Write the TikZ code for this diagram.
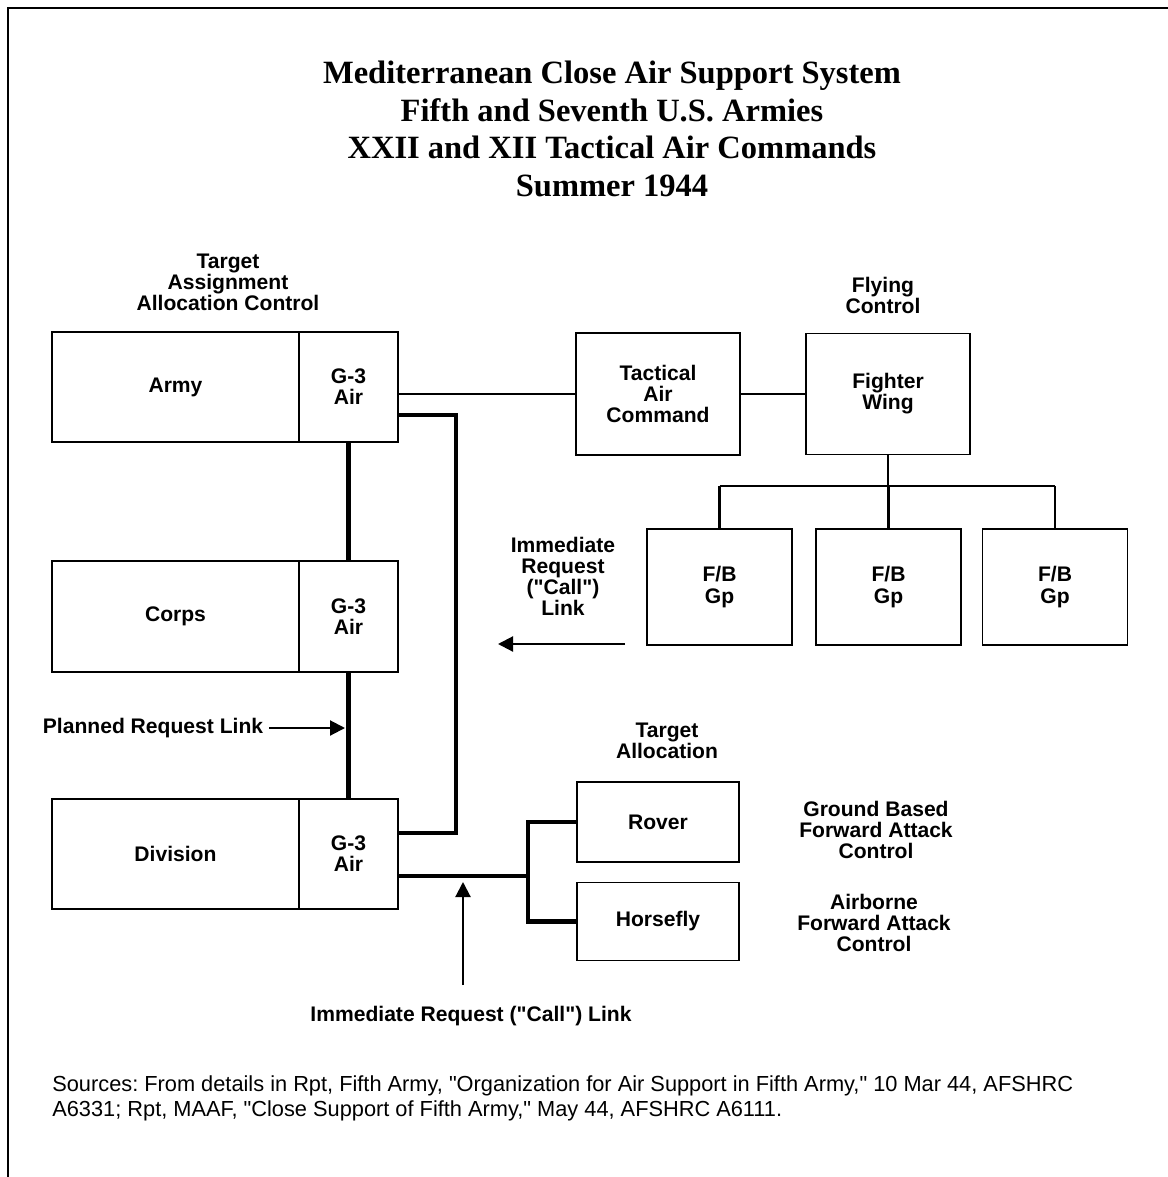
\documentclass[tikz,border=0pt]{standalone}
\usepackage{fontspec}
\setmainfont{Liberation Sans}[Ligatures=TeXOff]
\newfontfamily\titlefont{Liberation Serif}
\usepackage{tikz}
\usetikzlibrary{positioning,arrows.meta}
\frenchspacing

\begin{document}
\begin{tikzpicture}[x=0.02cm, y=-0.02cm,
    box/.style={draw, line width=1pt, outer sep=0pt, inner sep=2pt, align=center, font=\bfseries\fontsize{12}{12}\selectfont},
    tag/.style={align=center, font=\bfseries\fontsize{12}{12}\selectfont},
    link/.style={line width=1.5pt},
    heavy/.style={line width=2.6pt},
    callout/.style={line width=1.2pt, -{Triangle[length=3mm,width=3mm]}}]
        \useasboundingbox (0,0) rectangle (1168,1177);
        \draw[line width=1.2pt] (8,1177) -- (8,8) -- (1168,8);

        \node[font=\titlefont\bfseries\fontsize{18.5}{21.5}\selectfont, align=center] (title) at (612,129)
            {Mediterranean Close Air Support System\\Fifth and Seventh U.S. Armies\\XXII and XII Tactical Air Commands\\Summer 1944};

        \node[tag] (assign) at (228,282) {Target\\Assignment\\Allocation Control};
        \node[tag] (flying) at (883,295) {Flying\\Control};

        \node[box, minimum width=4.94cm, minimum height=2.2cm] (army) at (175.5,387) {Army};
        \node[box, minimum width=1.98cm, minimum height=2.2cm, right=0pt of army] (armyg3) {G-3\\Air};
        \node[box, minimum width=4.94cm, minimum height=2.22cm] (corps) at (175.5,616.5) {Corps};
        \node[box, minimum width=1.98cm, minimum height=2.22cm, right=0pt of corps] (corpsg3) {G-3\\Air};
        \node[box, minimum width=4.94cm, minimum height=2.2cm] (division) at (175.5,854) {Division};
        \node[box, minimum width=1.98cm, minimum height=2.2cm, right=0pt of division] (divg3) {G-3\\Air};

        \node[box, minimum width=3.28cm, minimum height=2.44cm] (tac) at (658,394) {Tactical\\Air\\Command};
        \node[box, minimum width=3.28cm, minimum height=2.42cm] (wing) at (888,394) {Fighter\\Wing};
        \node[box, minimum width=2.9cm, minimum height=2.32cm] (fb1) at (719.5,587) {F/B\\Gp};
        \node[box, minimum width=2.9cm, minimum height=2.32cm] (fb2) at (888.5,587) {F/B\\Gp};
        \node[box, minimum width=2.9cm, minimum height=2.32cm] (fb3) at (1055,587) {F/B\\Gp};

        \node[tag] (callreq) at (563,576) {Immediate\\Request\\("Call")\\Link};
        \node[tag] (plink) at (153,728) {Planned Request Link};
        \node[tag] (talloc) at (667,741) {Target\\Allocation};

        \node[box, minimum width=3.24cm, minimum height=1.6cm] (rover) at (658,822) {Rover};
        \node[box, minimum width=3.24cm, minimum height=1.56cm] (horsefly) at (658,921.5) {Horsefly};
        \node[tag] (ground) at (876,830) {Ground Based\\Forward Attack\\Control};
        \node[tag] (airborne) at (874,923) {Airborne\\Forward Attack\\Control};
        \node[tag] (calllink) at (471,1016) {Immediate Request ("Call") Link};

        \node[font=\fontsize{12.4}{14.2}\selectfont, align=left, anchor=north west, inner sep=0pt] (sources) at (52,1075)
            {Sources: From details in Rpt, Fifth Army, "Organization for Air Support in Fifth Army," 10 Mar 44, AFSHRC\\A6331; Rpt, MAAF, "Close Support of Fifth Army," May 44, AFSHRC A6111.};

        \draw[link] (tac.west -| armyg3.east) -- (tac.west);
        \draw[link] (tac.east) -- (wing.west);
        \coordinate (wingjoin) at (888,486);
        \draw[link] (wing.south) -- (wingjoin);
        \draw[link] (fb1.north |- wingjoin) -- (fb3.north |- wingjoin);
        \foreach \g in {fb1,fb2,fb3}
            \draw[link] (\g.north) -- (\g.north |- wingjoin);

        \draw[heavy] (armyg3) -- (corpsg3);
        \draw[heavy] (corpsg3) -- (divg3);
        \coordinate (loopnorth) at (456,415);
        \coordinate (loopsouth) at (456,833);
        \draw[heavy] (armyg3.east |- loopnorth) -- (loopnorth) -- (loopsouth) -- (divg3.east |- loopsouth);
        \coordinate (split) at (528,876);
        \draw[heavy] (divg3.east |- split) -- (split);
        \draw[heavy] (rover.west) -| (split) |- (horsefly.west);

        \coordinate (plinktip) at (345,731);
        \draw[callout] (plink.east) -- (plink.east -| plinktip);
        \coordinate (calltail) at (625,644);
        \coordinate (callhead) at (498,644);
        \draw[callout] (calltail) -- (callhead);
        \coordinate (upfoot) at (463,985);
        \coordinate (uptip) at (463,882);
        \draw[callout] (upfoot) -- (uptip);
    \end{tikzpicture}
\end{document}
